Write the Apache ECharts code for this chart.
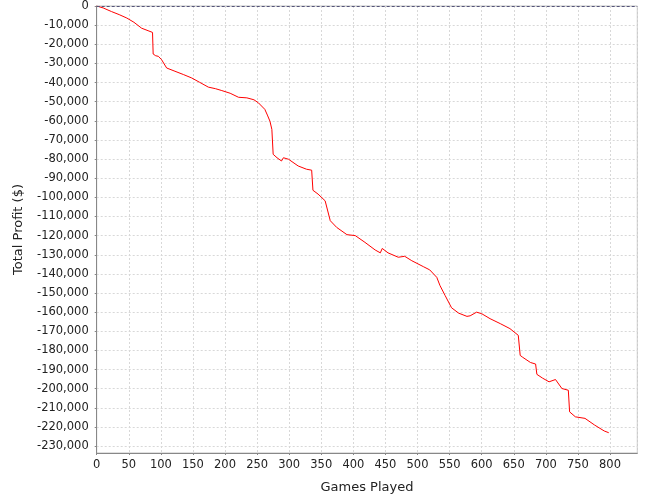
<!DOCTYPE html>
<html>
<head>
<meta charset="utf-8">
<script src="https://cdn.jsdelivr.net/npm/echarts@6/dist/echarts.min.js"></script>
<style>
html,body{margin:0;padding:0;background:#fff;}
#chart{width:667px;height:501px;}
</style>
</head>
<body>
<div id="chart"></div>
<script>
const games = [0,10,23,35,47,58,70,80,87,88,92,96,101,109,122,135,148,160,174,185,195,208,221,234,245,252,262,266,270,273,275,281,288,291,299,314,327,335,337,345,356,364,374,390,403,418,434,442,445,454,470,480,491,509,519,530,535,543,553,564,577,582,592,600,613,629,644,657,660,664,676,684,686,695,705,715,725,735,737,746,761,776,791,798];
const profit = [0,-1000,-2900,-4500,-6300,-8500,-11600,-12900,-13800,-25100,-26000,-26300,-28000,-32400,-34100,-35800,-37600,-39800,-42400,-43200,-44200,-45600,-47700,-48000,-49000,-50600,-54000,-57000,-60200,-64500,-77500,-79300,-81000,-79300,-80100,-83600,-85300,-85800,-96300,-98300,-101800,-112200,-115700,-119500,-120000,-123500,-127500,-129000,-126700,-129000,-131300,-130800,-133100,-136200,-137900,-141800,-146100,-151300,-157700,-160500,-162200,-161900,-160000,-160800,-163400,-166000,-168600,-172100,-182600,-183600,-186300,-187100,-192500,-194500,-196400,-195200,-199900,-200800,-212100,-214700,-215500,-219000,-222100,-223000];
const yTicks = [0,-10000,-20000,-30000,-40000,-50000,-60000,-70000,-80000,-90000,-100000,-110000,-120000,-130000,-140000,-150000,-160000,-170000,-180000,-190000,-200000,-210000,-220000,-230000];
const xTitle = 'Games Played';
const yTitle = 'Total Profit ($)';

const chart = echarts.init(document.getElementById('chart'), null, {renderer:'canvas'});
const font = 'DejaVu Sans';
chart.setOption({
  animation:false,
  backgroundColor:'#fff',
  grid:{left:96.7, top:4.5, right:29.7, bottom:48, show:true, borderColor:'#c0c0c0', borderWidth:1, containLabel:false},
  xAxis:{
    type:'value', min:0, max:842.5, interval:50,
    name:xTitle, nameLocation:'middle', nameGap:28,
    nameTextStyle:{fontFamily:font, fontSize:13, color:'#222'},
    axisLine:{show:true, onZero:false, lineStyle:{color:'#888', width:1}},
    axisTick:{show:true, length:2, lineStyle:{color:'#888'}},
    axisLabel:{fontFamily:font, fontSize:11.5, color:'#222', margin:6, showMaxLabel:false},
    splitLine:{show:true, lineStyle:{color:'#d8d8d8', type:[2,2], width:1}}
  },
  yAxis:{
    type:'value', min:-233600, max:0,
    name:yTitle, nameLocation:'middle', nameGap:72,
    nameTextStyle:{fontFamily:font, fontSize:13, color:'#222'},
    axisLine:{show:true, onZero:false, lineStyle:{color:'#888', width:1}},
    axisTick:{show:true, length:2, lineStyle:{color:'#888'}, customValues:yTicks},
    axisLabel:{fontFamily:font, fontSize:11.5, color:'#222', margin:8, customValues:yTicks,
      formatter:v=>v.toLocaleString('en-US')},
    splitLine:{show:true, lineStyle:{color:'#d8d8d8', type:[2,2], width:1}}
  },
  series:[{
    type:'line',
    data:games.map((g,i)=>[g,profit[i]]),
    showSymbol:false,
    lineStyle:{color:'#ff0000', width:1},
    markLine:{silent:true, symbol:'none', label:{show:false},
      lineStyle:{color:'#55557a', type:[3,2], width:1},
      data:[{yAxis:0}]}
  }]
});
</script>
</body>
</html>
